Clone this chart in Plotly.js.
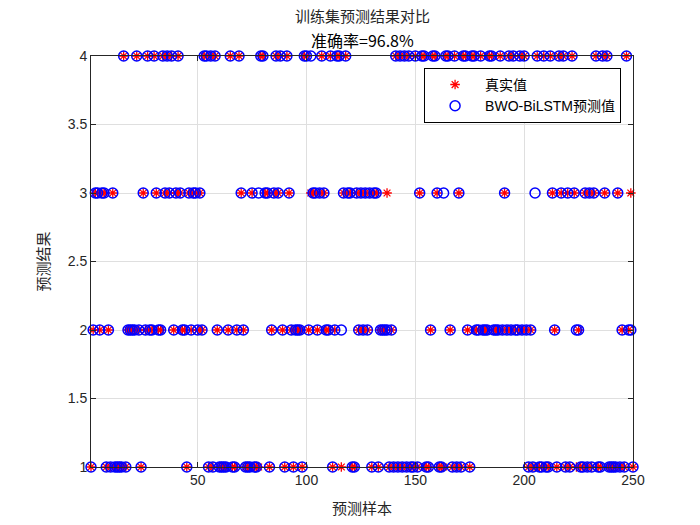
<!DOCTYPE html>
<html><head><meta charset="utf-8">
<script src="https://cdn.plot.ly/plotly-3.0.1.min.js"></script>
<style>html,body{margin:0;padding:0;background:#fff}#c{width:700px;height:525px}</style>
</head><body><div id="c"></div>
<script>
const trueLabels = [
1,2,3,3,2,3,3,1,2,1, 3,1,1,1,1,4,1,2,2,2, 2,4,2,1,3,2,4,2,2,4, 3,2,2,4,3,4,3,4,2,3,
4,3,2,2,1,3,2,3,3,2, 3,2,4,4,1,4,1,4,2,1, 1,1,1,2,4,1,1,2,4,3, 2,1,1,1,3,1,1,1,4,4,
3,3,1,2,3,4,3,4,2,1, 4,3,2,1,2,2,2,1,4,4, 2,3,3,3,2,3,4,3,2,2, 4,1,2,4,4,1,3,4,3,3,
1,1,3,2,3,2,3,2,3,1, 3,3,1,2,2,2,3,1,2,1, 4,1,4,1,4,1,4,1,1,4, 1,3,4,4,1,1,2,4,4,3,
1,1,1,4,4,2,1,4,1,3, 1,4,4,2,1,4,4,2,2,4, 2,2,2,4,4,2,2,2,4,2, 3,2,4,2,4,2,2,4,2,4,
2,1,2,1,1,4,1,1,4,1, 1,4,3,2,1,4,3,4,1,3, 1,4,3,1,2,1,1,3,1,3, 1,3,4,1,1,4,3,4,1,1,
1,1,3,1,2,1,4,2,3,1];
const predLabels = [
1,2,3,3,2,3,3,1,2,1, 3,1,1,1,1,4,1,2,2,2, 2,4,2,1,3,2,4,2,2,4, 3,2,2,4,3,4,3,4,2,3,
4,3,2,2,1,3,2,3,3,2, 3,2,4,4,1,4,1,4,2,1, 1,1,1,2,4,1,1,2,4,3, 2,1,1,1,3,1,1,3,4,4,
3,3,1,2,3,4,3,4,2,1, 4,3,2,1,2,2,2,1,4,4, 2,4,3,3,2,3,4,3,2,2, 4,1,2,4,4,2,3,4,3,3,
1,1,3,2,3,2,3,2,3,1, 3,3,1,2,2,2,2,1,2,1, 4,1,4,1,4,1,4,1,1,4, 1,3,4,4,1,1,2,4,4,3,
1,1,3,4,4,2,1,4,1,3, 1,4,4,2,1,4,4,2,2,4, 2,2,2,4,4,2,2,2,4,2, 3,2,4,2,4,2,2,4,2,4,
2,1,2,1,3,4,1,1,4,1, 1,4,3,2,1,4,3,4,1,3, 1,4,3,2,2,1,1,3,1,3, 1,3,4,1,1,4,3,4,1,1,
1,1,3,1,2,1,4,2,2,1];
const xTicks = [50,100,150,200,250];
const yTicks = [1,1.5,2,2.5,3,3.5,4];
const yTickText = ['1','1.5','2','2.5','3','3.5','4'];
const titleLine1 = '训练集预测结果对比';
const accuracyText = '准确率=96.8%';
const xLabel = '预测样本';
const yLabel = '预测结果';
const legendTrue = '真实值';
const legendPred = 'BWO-BiLSTM预测值';

const idx = trueLabels.map((_, i) => i + 1);
const traces = [
  {x: idx, y: trueLabels, mode: 'markers', type: 'scatter', name: legendTrue, cliponaxis: false,
   marker: {symbol: 'asterisk-open', size: 8, color: '#ff0000', line: {color: '#ff0000', width: 1.3}}},
  {x: idx, y: predLabels, mode: 'markers', type: 'scatter', name: legendPred, cliponaxis: false,
   marker: {symbol: 'circle-open', size: 10, color: '#0000ff', line: {color: '#0000ff', width: 1.5}}}
];
const font = "Liberation Sans, Arial, 'Noto Sans CJK SC', sans-serif";
const cjk = "'Noto Sans CJK SC', sans-serif";
const layout = {
  width: 700, height: 525,
  margin: {l: 91, r: 67, t: 56, b: 58},
  paper_bgcolor: '#fff', plot_bgcolor: '#fff',
  showlegend: true,
  legend: {x: 0.978, xanchor: 'right', y: 0.971, yanchor: 'top',
    bgcolor: '#fff', bordercolor: '#000', borderwidth: 1,
    font: {family: font, size: 14, color: '#000'}, tracegroupgap: 0, itemwidth: 50},
  xaxis: {range: [1, 250], tickvals: xTicks, ticktext: xTicks.map(String),
    showgrid: true, gridcolor: '#dfdfdf', zeroline: false,
    showline: true, linecolor: '#262626', linewidth: 1, mirror: 'ticks',
    ticks: 'inside', ticklen: 5, tickcolor: '#262626',
    tickfont: {family: font, size: 14, color: '#262626'},
    title: {text: xLabel, font: {family: cjk, size: 15, color: '#262626'}, standoff: 16}},
  yaxis: {range: [1, 4], tickvals: yTicks, ticktext: yTickText,
    showgrid: true, gridcolor: '#dfdfdf', zeroline: false,
    showline: true, linecolor: '#262626', linewidth: 1, mirror: 'ticks',
    ticks: 'inside', ticklen: 5, tickcolor: '#262626',
    tickfont: {family: font, size: 14, color: '#262626'},
    title: {text: yLabel, font: {family: cjk, size: 15, color: '#262626'}, standoff: 14}},
  annotations: [
    {text: titleLine1, xref: 'paper', yref: 'paper', x: 0.5, y: 1, yshift: 41, showarrow: false,
     xanchor: 'center', yanchor: 'middle', font: {family: cjk, size: 15, color: '#262626'}},
    {text: accuracyText, xref: 'paper', yref: 'paper', x: 0.5, y: 1, yshift: 16, showarrow: false,
     xanchor: 'center', yanchor: 'middle', font: {family: cjk, size: 16, color: '#000'}}
  ]
};
Plotly.newPlot('c', traces, layout, {displayModeBar: false, staticPlot: true});
</script></body></html>
